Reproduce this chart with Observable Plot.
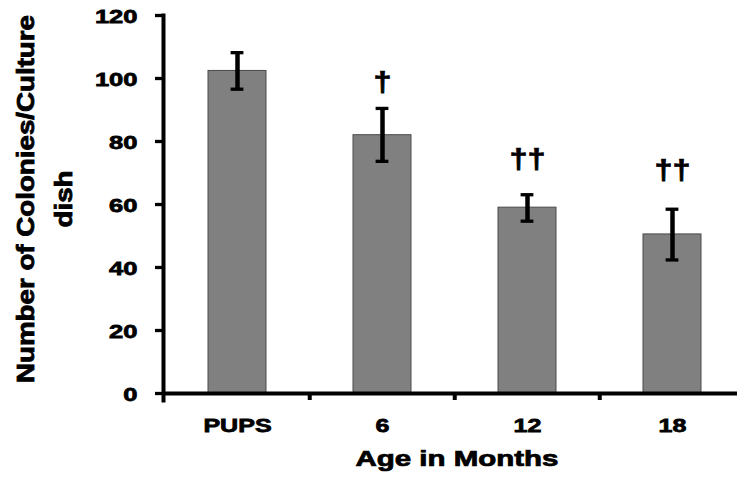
<!DOCTYPE html>
<html><head><meta charset="utf-8">
<script src="https://cdn.jsdelivr.net/npm/d3@7"></script>
<script src="https://cdn.jsdelivr.net/npm/@observablehq/plot@0.6"></script>
<style>
html,body{margin:0;padding:0;background:#fff;}
#chart svg text{font-family:"Liberation Sans", Arial, sans-serif;font-weight:bold;stroke:#000;stroke-width:0.75px;fill:#000;}
</style></head><body><div id="chart"></div>
<script>
const categories = ["PUPS", "6", "12", "18"];
const means = [102.4, 82.0, 59.0, 50.5];
const errLow = [96.6, 73.7, 54.7, 42.4];
const errHigh = [108.2, 90.5, 63.1, 58.5];
const sigMarks = ["", "†", "††", "††"];
const sigY = [null, 98.9, 74.3, 70.9];
const yTicks = [0, 20, 40, 60, 80, 100, 120];
const xTitle = "Age in Months";
const yTitle = "Number of Colonies/Culture\ndish";

const data = categories.map((c, i) => ({cat: c, mean: means[i], lo: errLow[i], hi: errHigh[i], mark: sigMarks[i], my: sigY[i]}));

const W = 737, H = 477;
const xRange = [163, 745];
const xs = d3.scaleBand(categories, xRange).paddingInner(0.6).paddingOuter(0.3);
const step = xs.step(), bw = xs.bandwidth();
const capInset = (bw - 13) / 2;

const plot = Plot.plot({
  width: W, height: H,
  marginLeft: 163, marginRight: 0, marginTop: 15, marginBottom: 84,
  style: {background: "#fff", color: "#000", fontFamily: "Liberation Sans, Arial, sans-serif"},
  x: {type: "band", domain: categories, range: xRange, paddingInner: 0.6, paddingOuter: 0.3, label: null},
  y: {domain: [0, 120], label: null},
  marks: [
    Plot.barY(data, {x: "cat", y: "mean", fill: "#808080", stroke: "#4a4a4a", strokeWidth: 1}),
    Plot.ruleX(data, {x: "cat", y1: "lo", y2: "hi", stroke: "#000", strokeWidth: 4.5}),
    Plot.tickY(data, {x: "cat", y: "hi", stroke: "#000", strokeWidth: 3.3, insetLeft: capInset, insetRight: capInset}),
    Plot.tickY(data, {x: "cat", y: "lo", stroke: "#000", strokeWidth: 3.3, insetLeft: capInset, insetRight: capInset}),
    Plot.text(data.filter(d => d.mark), {x: "cat", y: "my", text: "mark", fontSize: 27, lineAnchor: "middle"}),
    Plot.ruleY([0], {stroke: "#000", strokeWidth: 4}),
    Plot.frame({anchor: "left", stroke: "#000", strokeWidth: 4, insetBottom: -7}),
    Plot.ruleX(categories.slice(1), {x: d => d, y1: 0, y2: 0, insetBottom: -7, dx: -step / 2, stroke: "#000", strokeWidth: 4}),
    Plot.axisY(yTicks, {tickSize: 8, tickPadding: 18, fontSize: 18.5, strokeWidth: 3.3, label: null}),
    Plot.axisX({tickSize: 0, tickPadding: 25, fontSize: 18.5, label: null}),
    Plot.text([xTitle], {frameAnchor: "bottom", dy: 72, dx: 6.5, fontSize: 22, textAnchor: "middle", lineAnchor: "bottom"}),
    Plot.text([yTitle], {frameAnchor: "left", rotate: -90, dx: -123, dy: -5.5, fontSize: 22, lineHeight: 1.56, textAnchor: "middle", lineAnchor: "middle"})
  ]
});

document.getElementById("chart").appendChild(plot);

function stretchEls(els, extra) {
  els.forEach(el => {
    let t = el.getAttribute("transform") || "";
    const xa = el.getAttribute("x");
    if (xa !== null && !isNaN(+xa) && +xa !== 0) {
      t += ` translate(${+xa},0)`;
      el.removeAttribute("x");
    }
    el.setAttribute("transform", (t + " " + extra).trim());
  });
}
stretchEls(plot.querySelectorAll('g[aria-label="y-axis tick label"] text'), "translate(0,1.7) scale(1.38,1)");
stretchEls(plot.querySelectorAll('g[aria-label="x-axis tick label"] text'), "scale(1.355,1)");
const textGroups = plot.querySelectorAll('g[aria-label="text"]');
stretchEls(textGroups[0].querySelectorAll(":scope > text"), "scale(1.2,1)");
stretchEls(textGroups[1].querySelectorAll(":scope > text"), "scale(1.34,1)");
stretchEls(textGroups[2].querySelectorAll(":scope > text"), "scale(1.26,1.12)");
</script></body></html>
